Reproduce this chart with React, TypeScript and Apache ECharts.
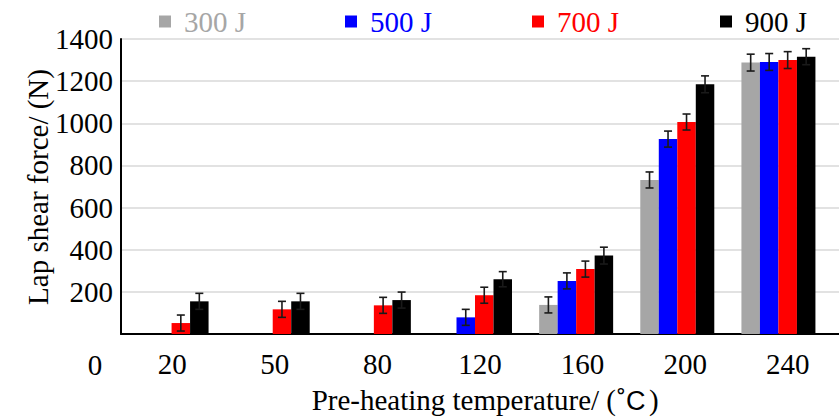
import React, { useEffect, useRef } from "react";
import * as echarts from "echarts";

const categories = ["20", "50", "80", "120", "160", "200", "240"];
const seriesNames = ["300 J", "500 J", "700 J", "900 J"];
const seriesColors = ["#a6a6a6", "#0000ff", "#ff0000", "#000000"];
const s300 = [null, null, null, null, 138, 731, 1288];
const s500 = [null, null, null, 79, 252, 925, 1291];
const s700 = [52, 117, 136, 184, 308, 1006, 1300];
const s900 = [155, 155, 161, 260, 372, 1185, 1316];
const e300 = [null, null, null, null, 38, 38, 40];
const e500 = [null, null, null, 38, 38, 38, 40];
const e700 = [38, 38, 38, 38, 38, 38, 40];
const e900 = [38, 38, 38, 36, 40, 40, 38];
const yTicks = [0, 200, 400, 600, 800, 1000, 1200, 1400];

const F = "Liberation Serif";
const BAR_W = 18.5;
const legendLefts = [154, 340, 527, 715];

export default function App() {
  const ref = useRef<HTMLDivElement>(null);
  useEffect(() => {
    if (!ref.current) return;
    const chart = echarts.init(ref.current, null, { renderer: "svg" });
    const values = [s300, s500, s700, s900];
    const errs = [e300, e500, e700, e900];
    const yMin = yTicks[0];
    const yMax = yTicks[yTicks.length - 1];
    const yInt = yTicks[1] - yTicks[0];

    const barSeries = values.map((vals, i) => ({
      type: "bar",
      name: seriesNames[i],
      xAxisIndex: 0,
      yAxisIndex: 0,
      data: vals,
      barWidth: BAR_W,
      barGap: "0%",
      itemStyle: { color: seriesColors[i] },
      z: 3,
    }));

    const errSeries = values.map((vals, i) => ({
      type: "custom",
      xAxisIndex: 0,
      yAxisIndex: 0,
      z: 5,
      silent: true,
      data: vals
        .map((v, k) => (v == null ? null : [k, v, errs[i][k]]))
        .filter((d) => d != null),
      renderItem: (params: any, api: any) => {
        const k = api.value(0);
        const v = api.value(1);
        const e = api.value(2);
        const c = api.coord([k, v]);
        const lo = api.coord([k, v - e]);
        const hi = api.coord([k, v + e]);
        const x = c[0] + (i - 1.5) * BAR_W;
        const cap = 4;
        const style = { stroke: "#1a1a1a", lineWidth: 1.6 };
        return {
          type: "group",
          children: [
            { type: "line", shape: { x1: x, y1: lo[1], x2: x, y2: hi[1] }, style },
            { type: "line", shape: { x1: x - cap, y1: lo[1], x2: x + cap, y2: lo[1] }, style },
            { type: "line", shape: { x1: x - cap, y1: hi[1], x2: x + cap, y2: hi[1] }, style },
          ],
        };
      },
    }));

    chart.setOption({
      animation: false,
      legend: seriesNames.map((n, i) => ({
        left: legendLefts[i],
        top: 2,
        icon: "rect",
        itemWidth: 12,
        itemHeight: 12,
        data: [n],
        textStyle: { fontFamily: F, fontSize: 29, color: seriesColors[i], padding: [0, 0, 0, 8] },
      })),
      grid: [
        { left: 121, top: 39, width: 708, height: 295 },
        { left: 121, top: 39, right: 0, height: 295 },
      ],
      xAxis: [
        {
          type: "category",
          gridIndex: 0,
          data: categories,
          axisLine: { show: false },
          axisTick: { show: false },
          axisLabel: { show: false },
        },
        {
          type: "category",
          gridIndex: 1,
          data: categories,
          axisLine: { show: true, lineStyle: { color: "#000", width: 2 } },
          axisTick: { show: false },
          axisLabel: { fontFamily: F, fontSize: 29, color: "#000", margin: 15 },
        },
      ],
      yAxis: [
        {
          type: "value",
          gridIndex: 0,
          min: yMin,
          max: yMax,
          interval: yInt,
          axisLine: { show: false },
          axisTick: { show: false },
          axisLabel: { show: false },
          splitLine: { show: false },
        },
        {
          type: "value",
          gridIndex: 1,
          min: yMin,
          max: yMax,
          interval: yInt,
          axisLine: { show: true, lineStyle: { color: "#000", width: 2 } },
          axisTick: { show: false },
          axisLabel: {
            fontFamily: F,
            fontSize: 29,
            color: "#000",
            margin: 8,
            showMinLabel: false,
            formatter: (v: number) => String(v),
          },
          splitLine: { show: true, lineStyle: { color: "#d9d9d9", width: 1.5 } },
        },
      ],
      graphic: [
        {
          type: "text",
          x: 95,
          y: 365,
          style: { text: "0", fontFamily: F, fontSize: 29, fill: "#000", align: "center", verticalAlign: "middle" },
        },
        {
          type: "text",
          x: 616,
          y: 400,
          style: { text: "Pre-heating temperature/ (", fontFamily: F, fontSize: 29, fill: "#000", align: "right", verticalAlign: "middle" },
        },
        {
          type: "text",
          x: 617,
          y: 401,
          style: { text: "˚C", fontFamily: "Liberation Sans", fontSize: 27, fill: "#000", align: "left", verticalAlign: "middle" },
        },
        {
          type: "text",
          x: 649,
          y: 400,
          style: { text: ")", fontFamily: F, fontSize: 29, fill: "#000", align: "left", verticalAlign: "middle" },
        },
        {
          type: "text",
          x: 38,
          y: 187,
          rotation: Math.PI / 2,
          style: { text: "Lap shear force/ (N)", fontFamily: F, fontSize: 29, fill: "#000", align: "center", verticalAlign: "middle" },
        },
      ],
      series: [...barSeries, ...errSeries],
    });
    return () => chart.dispose();
  }, []);
  return (
    <div
      ref={ref}
      style={{ position: "fixed", left: 0, top: 0, width: 839, height: 417, background: "#fff" }}
    />
  );
}
